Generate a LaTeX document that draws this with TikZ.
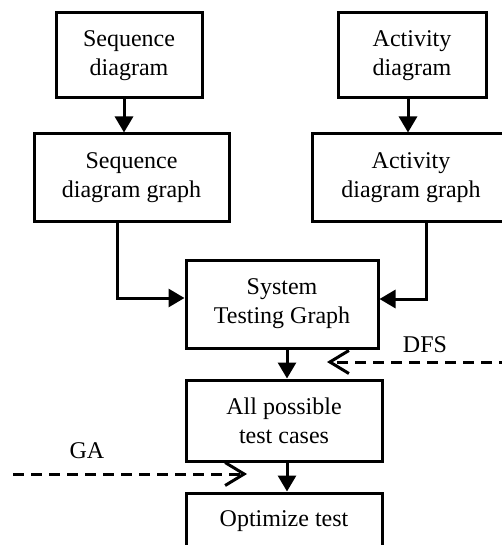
\documentclass[tikz,border=0pt]{standalone}
\usepackage{fontspec}
\setmainfont{Liberation Serif}
\usetikzlibrary{arrows.meta}
\begin{document}
\begin{tikzpicture}[x=1pt,y=-1pt,
  box/.style={draw,line width=3pt,rectangle,align=center,inner sep=0pt,
    font=\fontsize{24}{29}\selectfont},
  txt/.style={inner sep=0pt,font=\fontsize{24}{29}\selectfont},
  arr/.style={line width=3pt,-{Triangle[length=16pt,width=18pt]}},
  dasharr/.style={line width=3pt,dash pattern=on 11pt off 7pt,
    -{Straight Barb[length=19pt,width=23pt,line width=3pt]}}]
\clip (0,0) rectangle (502,545);
\useasboundingbox (0,0) rectangle (502,545);
\fill[white] (0,0) rectangle (502,545);
% boxes
\node[box,minimum width=146pt,minimum height=85pt] (seq) at (129,55.5) {Sequence\\diagram};
\node[box,minimum width=148pt,minimum height=85pt] (act) at (412,55.5) {Activity\\diagram};
\node[box,minimum width=195pt,minimum height=87pt] (seqG) at (131.5,177.5) {Sequence\\diagram graph};
\node[box,minimum width=198pt,minimum height=87pt] (actG) at (411,177.5) {Activity\\diagram graph};
\node[box,minimum width=192pt,minimum height=88pt] (sys) at (282,304) {System\\Testing Graph};
\node[box,minimum width=196pt,minimum height=81pt] (all) at (284,420.5) {All possible\\test cases};
\node[box,minimum width=196pt,minimum height=87pt] (opt) at (284,536.5) {};
\node[txt] (optt) at (284,521) {Optimize test};
% helper coordinates
\coordinate (c1) at (124,0);
\coordinate (c2) at (408,0);
\coordinate (c3) at (117,0);
\coordinate (c4) at (426,0);
\coordinate (c5) at (287,0);
\coordinate (sysin) at ([yshift=6pt]sys.west);
\coordinate (sysin2) at ([yshift=5pt]sys.east);
% connectors
\draw[arr] (seq.south -| c1) -- (seqG.north -| c1);
\draw[arr] (act.south -| c2) -- (actG.north -| c2);
\draw[arr] (seqG.south -| c3) |- (sysin);
\draw[arr] (actG.south -| c4) |- (sysin2);
\draw[arr] (sys.south -| c5) -- (all.north -| c5);
\draw[arr] (all.south -| c5) -- (opt.north -| c5);
% dashed inputs
\coordinate (dfsS) at (510,362);
\coordinate (dfsE) at (327,362);
\draw[dasharr] (dfsS) -- (dfsE);
\node[txt] (dfs) at (425,345) {DFS};
\coordinate (gaS) at (13,474);
\coordinate (gaE) at (247,474);
\draw[dasharr] (gaS) -- (gaE);
\node[txt] (ga) at (87,451) {GA};
\end{tikzpicture}
\end{document}
